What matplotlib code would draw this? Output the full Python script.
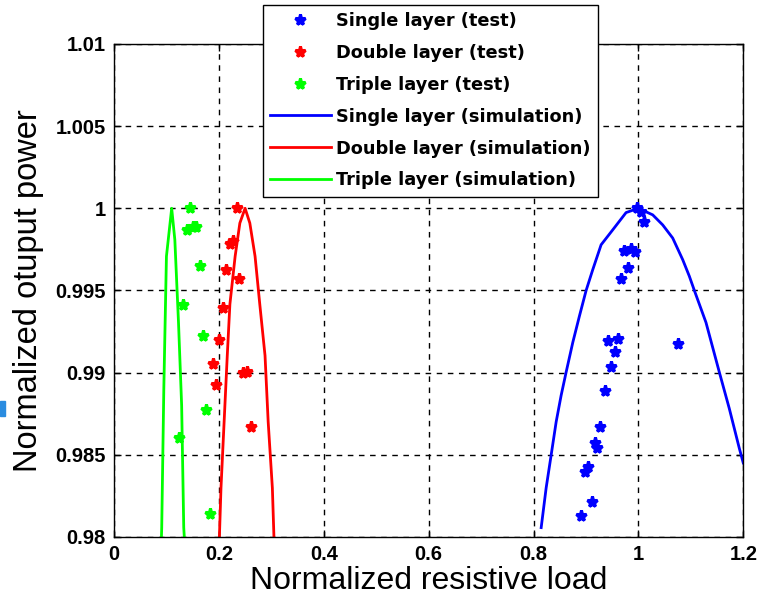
import matplotlib
matplotlib.use("Agg")
import matplotlib.pyplot as plt
from matplotlib.patches import Rectangle

plt.rcParams['font.family'] = ['Liberation Sans', 'DejaVu Sans']

# Measured points (normalized load, normalized output power)
single_test_x = [0.998, 1.005, 1.011, 0.972, 0.986, 0.994, 0.980, 0.967,
                 0.942, 0.961, 0.956, 1.076, 0.948, 0.936, 0.927, 0.917,
                 0.922, 0.903, 0.898, 0.911, 0.891]
single_test_y = [1.0000, 0.9998, 0.99919, 0.99742, 0.99751, 0.99734, 0.99635,
                 0.99568, 0.99195, 0.99203, 0.99128, 0.99176, 0.99033, 0.98890,
                 0.98668, 0.98574, 0.98540, 0.98424, 0.98396, 0.98215, 0.98128]

double_test_x = [0.234, 0.221, 0.227, 0.213, 0.239, 0.208, 0.200, 0.188,
                 0.246, 0.253, 0.194, 0.262]
double_test_y = [1.0000, 0.99784, 0.99798, 0.99623, 0.99571, 0.99396, 0.99199,
                 0.99053, 0.9900, 0.99004, 0.98922, 0.98667]

triple_test_x = [0.145, 0.140, 0.151, 0.156, 0.164, 0.131, 0.169, 0.175,
                 0.124, 0.183]
triple_test_y = [1.0000, 0.99869, 0.99889, 0.99885, 0.99647, 0.9941, 0.99225,
                 0.98771, 0.9860, 0.98141]

# Simulated curves
single_sim_x = [0.8146, 0.8241, 0.8337, 0.8432, 0.8527, 0.8622, 0.8749,
                0.8876, 0.9003, 0.9130, 0.9289, 0.9511, 0.9765, 1.0000,
                1.0273, 1.0463, 1.0654, 1.0844, 1.0971, 1.1067, 1.1289,
                1.1543, 1.1733, 1.1924, 1.2000]
single_sim_y = [0.98057, 0.98299, 0.98500, 0.98701, 0.98862, 0.99003,
                0.99184, 0.99345, 0.99500, 0.99627, 0.99778, 0.99869,
                0.99974, 1.00000, 0.99960, 0.99899, 0.99819, 0.99688,
                0.99587, 0.99500, 0.99305, 0.99003, 0.98782, 0.98540,
                0.98450]

double_sim_x = [0.201, 0.204, 0.210, 0.216, 0.221, 0.231, 0.240, 0.250,
                0.259, 0.269, 0.278, 0.288, 0.294, 0.302, 0.305]
double_sim_y = [0.9800, 0.98298, 0.98701, 0.99104, 0.99416, 0.99708, 0.9991,
                1.0000, 0.9991, 0.99708, 0.99416, 0.99104, 0.98701, 0.98298,
                0.9800]

triple_sim_x = [0.090, 0.091, 0.095, 0.100, 0.110, 0.116, 0.123, 0.129,
                0.133, 0.135]
triple_sim_y = [0.9795, 0.98057, 0.98903, 0.99708, 1.0000, 0.99809, 0.99305,
                0.9880, 0.98057, 0.9795]

x_ticks = [0, 0.2, 0.4, 0.6, 0.8, 1, 1.2]
x_tick_labels = ['0', '0.2', '0.4', '0.6', '0.8', '1', '1.2']
y_ticks = [0.98, 0.985, 0.99, 0.995, 1.0, 1.005, 1.01]
y_tick_labels = ['0.98', '0.985', '0.99', '0.995', '1', '1.005', '1.01']

BLUE = '#0000ff'
RED = '#ff0000'
GREEN = '#00ff00'

fig = plt.figure(figsize=(7.6, 6.02), dpi=100)
ax = fig.add_axes([0.150, 0.108, 0.828, 0.819])

mk = dict(linestyle='none', marker='*', markersize=8, markeredgewidth=2.2)
ax.plot(single_test_x, single_test_y, color=BLUE, label='Single layer (test)', **mk)
ax.plot(double_test_x, double_test_y, color=RED, label='Double layer (test)', **mk)
ax.plot(triple_test_x, triple_test_y, color=GREEN, label='Triple layer (test)', **mk)
ax.plot(single_sim_x, single_sim_y, color=BLUE, lw=2, label='Single layer (simulation)')
ax.plot(double_sim_x, double_sim_y, color=RED, lw=2, label='Double layer (simulation)')
ax.plot(triple_sim_x, triple_sim_y, color=GREEN, lw=2, label='Triple layer (simulation)')

ax.set_xlim(0, 1.2)
ax.set_ylim(0.98, 1.01)
ax.set_xticks(x_ticks)
ax.set_xticklabels(x_tick_labels)
ax.set_yticks(y_ticks)
ax.set_yticklabels(y_tick_labels)
ax.tick_params(direction='in', length=5, width=1, top=True, right=True,
               labelsize=14.5, pad=6)
for lab in ax.get_xticklabels() + ax.get_yticklabels():
    lab.set_fontweight('bold')
ax.grid(True, color='black', linestyle=(0, (4, 4)), linewidth=1)
for sp in ax.spines.values():
    sp.set_linewidth(1)

ax.set_xlabel('Normalized resistive load', fontsize=23, labelpad=1)
ax.set_ylabel('Normalized otuput power', fontsize=23.5, labelpad=8)

leg = ax.legend(loc='upper left', bbox_to_anchor=(263 / 760, 1 - 5 / 602),
                bbox_transform=fig.transFigure, fancybox=False, framealpha=1,
                edgecolor='black',
                prop={'family': 'DejaVu Sans', 'weight': 'bold', 'size': 12.8},
                handlelength=3.4, labelspacing=0.78, borderpad=0.4,
                handletextpad=0.3, borderaxespad=0)
leg.get_frame().set_linewidth(1)

fig.patches.append(Rectangle((0, 1 - 416 / 602), 5 / 760, 15 / 602,
                             transform=fig.transFigure, color='#2a8ce0'))

fig.savefig('out.png', dpi=100)
